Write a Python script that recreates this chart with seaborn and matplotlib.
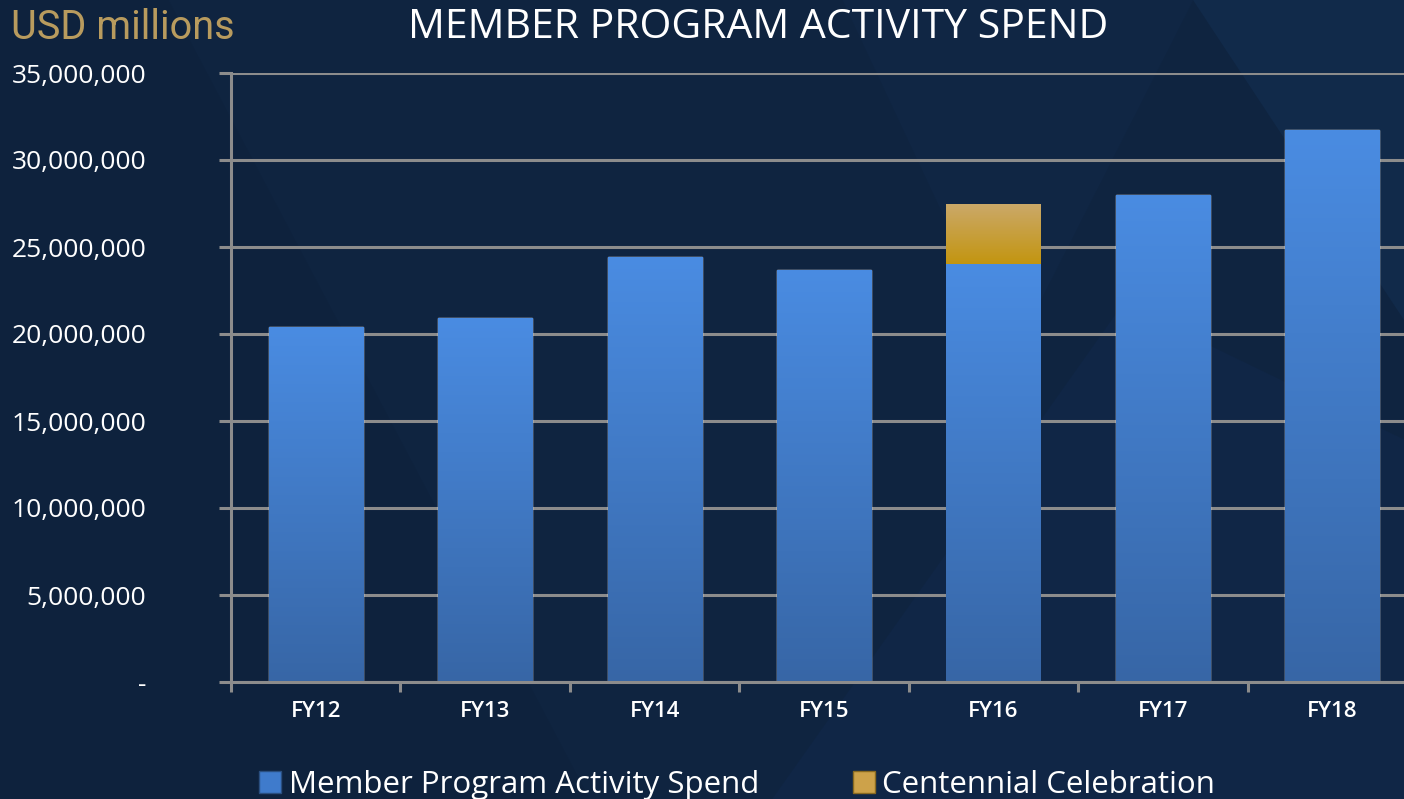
import matplotlib
matplotlib.use("Agg")
import matplotlib.pyplot as plt
import matplotlib.ticker as mticker
from matplotlib.patches import Polygon, Patch
import numpy as np
import pandas as pd
import seaborn as sns

years = ["FY12", "FY13", "FY14", "FY15", "FY16", "FY17", "FY18"]
member_spend = [20400000, 20900000, 24400000, 23700000, 24000000, 28000000, 31700000]
centennial = [0, 0, 0, 0, 3500000, 0, 0]

BG = "#0f2440"
BLUE_TOP, BLUE_BOT = "#4a8ce2", "#3766a6"
GOLD_TOP, GOLD_BOT = "#cba96a", "#c39510"
GRID = "#8c8c8c"
FONT = ["Open Sans", "DejaVu Sans"]

df = pd.DataFrame({"year": years, "member": member_spend, "centennial": centennial})
df["total"] = df["member"] + df["centennial"]

sns.set_theme(style="dark")
plt.rcParams["font.family"] = FONT

fig = plt.figure(figsize=(14.04, 7.99), dpi=100, facecolor=BG)

# faint background shapes
bg = fig.add_axes([0, 0, 1, 1], zorder=-5)
bg.set_xlim(0, 1)
bg.set_ylim(0, 1)
bg.axis("off")
for pts, c in [
    ([(0.0, 0.0), (0.0, 1.0), (0.12, 1.0), (0.42, 0.0)], "#0e223d"),
    ([(0.55, 0.0), (0.8, 0.62), (1.0, 0.45), (1.0, 0.0)], "#102646"),
    ([(0.85, 1.0), (1.0, 1.0), (1.0, 0.6)], "#112a4a"),
    ([(0.6, 1.0), (0.72, 0.55), (0.85, 1.0)], "#102644"),
]:
    bg.add_patch(Polygon(pts, closed=True, facecolor=c, edgecolor="none"))

ax = fig.add_axes([231 / 1404, 117 / 799, 1186 / 1404, 609 / 799])
ax.set_facecolor("none")

sns.barplot(data=df, x="year", y="total", color=GOLD_BOT, width=0.555,
            saturation=1, ax=ax, zorder=3)
sns.barplot(data=df, x="year", y="member", color=BLUE_BOT, width=0.555,
            saturation=1, ax=ax, zorder=3)


def shade(patch, top, bot, start=None):
    x0, y0 = patch.get_x(), patch.get_y()
    w, h = patch.get_width(), patch.get_height()
    if h <= 0:
        return
    lo = y0 if start is None else start
    if y0 + h <= lo:
        return
    cmap = matplotlib.colors.LinearSegmentedColormap.from_list("g", [bot, top])
    grad = np.linspace(0, 1, 256).reshape(-1, 1)
    im = ax.imshow(grad, cmap=cmap, origin="lower", aspect="auto",
                   extent=[x0, x0 + w, lo, y0 + h], zorder=3)
    im.set_clip_path(patch)
    patch.set_edgecolor("none")


n = len(years)
for i, p in enumerate(ax.patches):
    if i < n:
        shade(p, GOLD_TOP, GOLD_BOT, start=member_spend[i])
    else:
        shade(p, BLUE_TOP, BLUE_BOT)

ax.set_xlim(-0.5, n - 0.5)
ax.set_ylim(0, 35000000)
ax.yaxis.set_major_locator(mticker.MultipleLocator(5000000))
ax.yaxis.set_major_formatter(
    mticker.FuncFormatter(lambda v, _: "-" if v == 0 else f"{int(v):,}"))
ax.grid(axis="y", color=GRID, linewidth=2.2, zorder=1)
ax.grid(axis="x", visible=False)

for side in ["top", "right"]:
    ax.spines[side].set_visible(False)
for side in ["left", "bottom"]:
    ax.spines[side].set_color(GRID)
    ax.spines[side].set_linewidth(2.2)
    ax.spines[side].set_zorder(4)

ax.set_xlabel("")
ax.set_ylabel("")
ax.tick_params(axis="y", colors="white", labelsize=19, length=9, width=2.2,
               color=GRID, left=True, pad=52)
ax.tick_params(axis="x", colors="white", labelsize=16, length=0, pad=14)
for lbl in ax.get_xticklabels():
    lbl.set_fontweight("semibold")
# category boundary ticks
ax.set_xticks(np.arange(-0.5, n, 1), minor=True)
ax.tick_params(axis="x", which="minor", length=7, width=2.2, color=GRID, bottom=True)

fig.text(0.0075, 0.966, "USD millions", color="#b89b5e", fontsize=28.5,
         ha="left", va="center", family=["Roboto", "DejaVu Sans"])
fig.text(0.54, 0.965, "MEMBER PROGRAM ACTIVITY SPEND", color="white",
         fontsize=29.5, ha="center", va="center")

handles = [Patch(facecolor="#3f7bcc", edgecolor="#2a4f80"),
           Patch(facecolor="#cda24a", edgecolor="#8a6a20")]
fig.legend(handles, ["Member Program Activity Spend", "Centennial Celebration"],
           loc="center", bbox_to_anchor=(0.525, 0.018), ncol=2, frameon=False,
           fontsize=22.5, labelcolor="white", handlelength=0.7, handleheight=0.7,
           handletextpad=0.25, columnspacing=3.0)

fig.savefig("out.png", dpi=100, facecolor=BG)
